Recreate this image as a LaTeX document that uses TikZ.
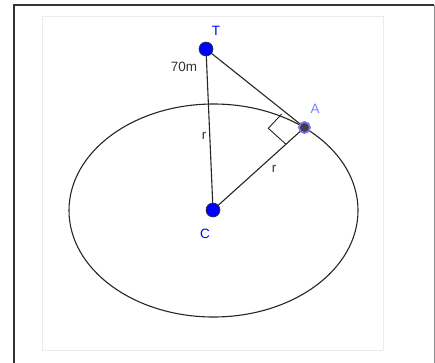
\documentclass[tikz,border=0pt]{standalone}
\usepackage{fontspec}
\setmainfont{Liberation Sans}
\begin{document}
\begin{tikzpicture}[x=1pt,y=-1pt,
  seg/.style={line width=1.1pt,draw=black!85},
  bluept/.style={circle,fill=blue,draw=black!80,line width=0.6pt,inner sep=0pt,minimum size=14pt},
  apt/.style={circle,fill=black!75,draw=blue!55!white,line width=1.8pt,inner sep=0pt,minimum size=11pt},
  lbl/.style={font=\fontsize{13.5}{15}\selectfont,inner sep=0pt}]
\useasboundingbox (0,0) rectangle (435,362);
\fill[white] (0,0) rectangle (435,362);
% frames
\draw[black!80,line width=1.2pt] (14,375) -- (14,5) -- (434,5);
\draw[black!45,line width=1pt] (434,5) -- (434,375);
\draw[black!8,line width=1pt] (42,16) rectangle (383,350);
% ellipse
\draw[seg] (213.5,210.5) ellipse [x radius=144.5, y radius=106.5];
% points
\coordinate (Tc) at (206,49);
\coordinate (Cc) at (213,210);
\coordinate (Ac) at (304.5,127.5);
\draw[seg] (Tc) -- (Cc);
\draw[seg] (Tc) -- (Ac);
\draw[seg] (Cc) -- (Ac);
\draw[seg,line width=0.9pt] (281.7,114) -- (268.3,128.3) -- (286,144.3);
\node[bluept] (T) at (Tc) {};
\node[bluept] (C) at (Cc) {};
\node[apt] (A) at (Ac) {};
\node[lbl,text=blue] (Tl) at (216,31) {T};
\node[lbl,text=blue] (Cl) at (205,234) {C};
\node[lbl,text=blue!50!white] (Al) at (315,109) {A};
\node[lbl,text=black!80] (d) at (184,67) {70m};
\node[lbl,text=black!80] (r1) at (204,136) {r};
\node[lbl,text=black!80] (r2) at (274,169) {r};
\end{tikzpicture}
\end{document}
